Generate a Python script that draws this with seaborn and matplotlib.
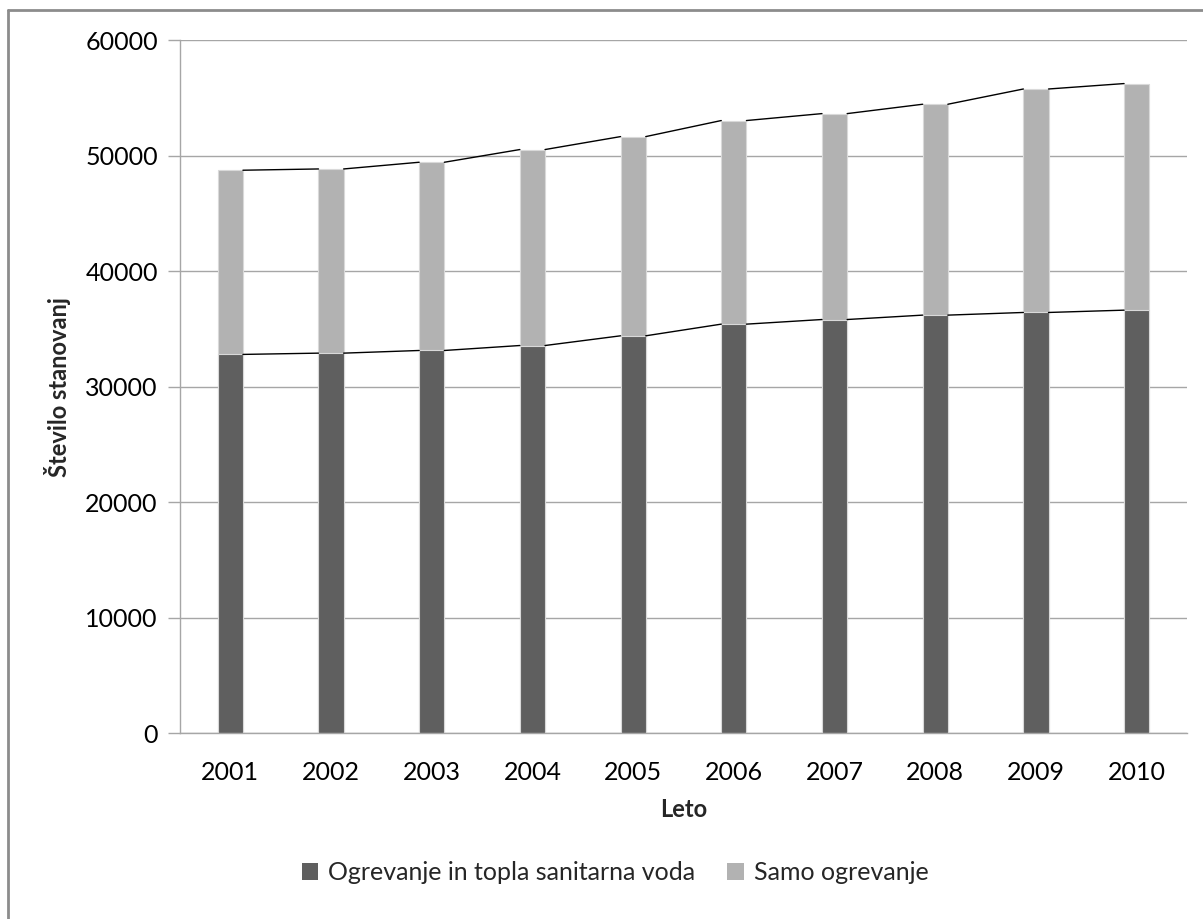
"""
Stacked bars: number of dwellings by heating type, 2001-2010
"""

import numpy as np
import pandas as pd
import matplotlib
matplotlib.use("Agg")
import matplotlib.pyplot as plt
from matplotlib.lines import Line2D
from matplotlib.patches import Patch
import seaborn as sns

# Data
years = ["2001", "2002", "2003", "2004", "2005", "2006", "2007", "2008", "2009", "2010"]
ogrevanje_in_voda = [32790, 32900, 33130, 33560, 34400, 35410, 35810, 36190, 36420, 36620]
samo_ogrevanje = [15940, 15940, 16290, 16960, 17240, 17620, 17820, 18250, 19340, 19610]

labels = ["Ogrevanje in topla sanitarna voda", "Samo ogrevanje"]
DARK = "#5f5f5f"
LIGHT = "#b2b2b2"
GRID = "#a6a6a6"
BAR_W = 0.25
FS = 18

df = pd.DataFrame({"Leto": years,
                   "dark": ogrevanje_in_voda,
                   "light": samo_ogrevanje})
df["total"] = df["dark"] + df["light"]

sns.set_theme(style="white")
plt.rcParams["font.family"] = ["Lato", "DejaVu Sans"]

fig = plt.figure(figsize=(12.03, 9.19), dpi=100)
ax = fig.add_axes([180 / 1203, (919 - 733.3) / 919, 1007 / 1203, (733.3 - 40) / 919])

# stacked bars: total in light, bottom part in dark on top of it
sns.barplot(data=df, x="Leto", y="total", color=LIGHT, width=BAR_W,
            saturation=1, edgecolor="#d9d9d9", linewidth=0.8, ax=ax)
sns.barplot(data=df, x="Leto", y="dark", color=DARK, width=BAR_W,
            saturation=1, edgecolor="#d9d9d9", linewidth=0.8, ax=ax)

# series lines connecting bar edges (Excel style)
for col in ["dark", "total"]:
    vals = df[col].to_numpy()
    for i in range(len(vals) - 1):
        ax.plot([i + BAR_W / 2, i + 1 - BAR_W / 2], [vals[i], vals[i + 1]],
                color="black", lw=1.0, zorder=4)

ax.set_xlim(-0.5, len(years) - 0.5)
ax.set_ylim(0, 60000)
ax.set_yticks(np.arange(0, 60001, 10000))
ax.yaxis.grid(True, color=GRID, lw=1)
ax.set_axisbelow(True)

for s in ["top", "right"]:
    ax.spines[s].set_visible(False)
ax.spines["left"].set_color(GRID)
ax.spines["bottom"].set_color(GRID)
ax.spines["left"].set_linewidth(1)
ax.spines["bottom"].set_linewidth(1)

ax.tick_params(axis="y", which="both", left=True, length=9, width=1, color=GRID,
               labelsize=FS, pad=7, labelcolor="black")
ax.tick_params(axis="x", bottom=False, labelsize=FS, pad=14, labelcolor="black")

ax.set_xlabel("Leto", fontsize=FS - 1, fontweight="bold", labelpad=10)
ax.set_ylabel("Število stanovanj", fontsize=FS - 1, fontweight="bold", labelpad=10)

handles = [Patch(facecolor=DARK, edgecolor="none"),
           Patch(facecolor=LIGHT, edgecolor="none")]
fig.legend(handles, labels, loc="center", bbox_to_anchor=(615 / 1203, 1 - 873 / 919),
           ncol=2, frameon=False, fontsize=FS, handlelength=0.65, handleheight=0.65,
           handletextpad=0.4, columnspacing=1.3)

# chart area border (top and left visible in the crop)
fig.add_artist(Line2D([8 / 1203, 8 / 1203], [0, 1 - 10 / 919],
                      transform=fig.transFigure, color="#8c8c8c", lw=2))
fig.add_artist(Line2D([8 / 1203, 1], [1 - 10 / 919, 1 - 10 / 919],
                      transform=fig.transFigure, color="#8c8c8c", lw=2))

fig.savefig("out.png", dpi=100)
